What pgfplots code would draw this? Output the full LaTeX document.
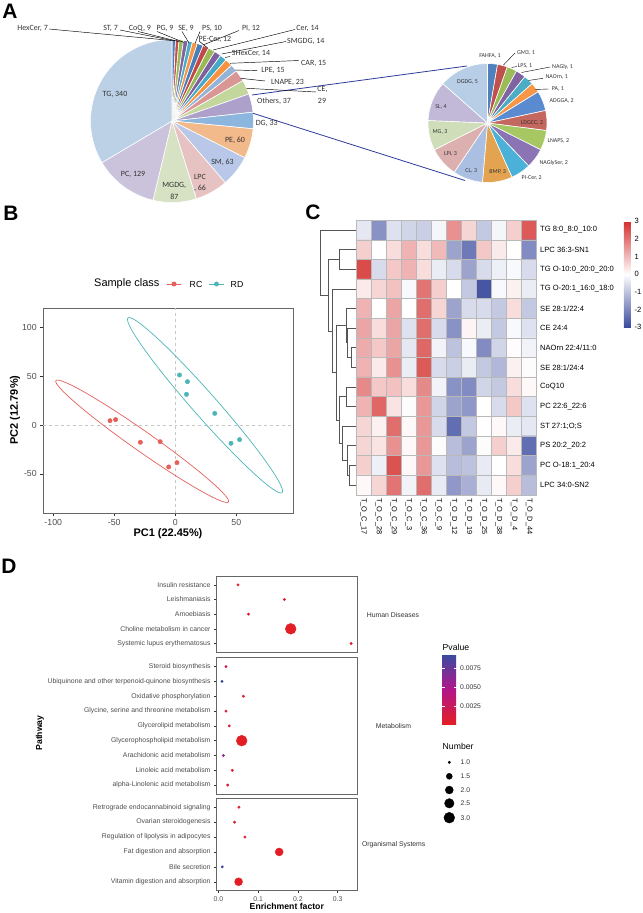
\documentclass[border=0pt]{standalone}
\usepackage{fontspec}
\setmainfont{Liberation Sans}
\newfontfamily\calibri{Carlito}
\usepackage{pgfplots}
\usepackage{pgfplotstable}
\pgfplotsset{compat=1.18, scale only axis, /pgf/number format/assume math mode=true,
  colormap={hm}{rgb255=(58,74,158) rgb255=(255,255,255) rgb255=(211,48,46)},
  colormap={pv}{rgb255=(226,30,36) rgb255=(178,22,138) rgb255=(58,74,160)}}

\newcommand\fs[1]{\fontsize{#1}{#1}\selectfont}

\definecolor{gray20}{HTML}{333333}
\definecolor{gray30}{HTML}{4D4D4D}
\definecolor{frame}{HTML}{666666}
\definecolor{rc}{HTML}{E5605B}
\definecolor{rd}{HTML}{4DB5B8}
\definecolor{link}{HTML}{2E3A9C}
\definecolor{dend}{HTML}{555555}
\definecolor{lab}{HTML}{333333}

% big pie, clockwise from 12 o'clock
\definecolor{pa0}{HTML}{4F81BD}\definecolor{pa1}{HTML}{C0504D}\definecolor{pa2}{HTML}{9BBB59}
\definecolor{pa3}{HTML}{8064A2}\definecolor{pa4}{HTML}{4BACC6}\definecolor{pa5}{HTML}{F79646}
\definecolor{pa6}{HTML}{4A7EBB}\definecolor{pa7}{HTML}{BE4B48}\definecolor{pa8}{HTML}{98B954}
\definecolor{pa9}{HTML}{7D60A0}\definecolor{pa10}{HTML}{46AAC5}\definecolor{pa11}{HTML}{F69240}
\definecolor{pa12}{HTML}{95B3D7}\definecolor{pa13}{HTML}{D99694}\definecolor{pa14}{HTML}{C3D69B}
\definecolor{pa15}{HTML}{ADA1CC}\definecolor{pa16}{HTML}{8DB6DE}\definecolor{pa17}{HTML}{F2B98A}
\definecolor{pa18}{HTML}{B9C8E8}\definecolor{pa19}{HTML}{E6C3C2}\definecolor{pa20}{HTML}{D7E2C4}
\definecolor{pa21}{HTML}{CBC3DC}\definecolor{pa22}{HTML}{BCD1E5}
% small pie
\definecolor{pb0}{HTML}{4F81BD}\definecolor{pb1}{HTML}{C0504D}\definecolor{pb2}{HTML}{9BBB59}
\definecolor{pb3}{HTML}{8064A2}\definecolor{pb4}{HTML}{4BACC6}\definecolor{pb5}{HTML}{F79646}
\definecolor{pb6}{HTML}{5A8AD0}\definecolor{pb7}{HTML}{C4675F}\definecolor{pb8}{HTML}{A6C761}
\definecolor{pb9}{HTML}{8B74B4}\definecolor{pb10}{HTML}{4CB1D8}\definecolor{pb11}{HTML}{E4A350}
\definecolor{pb12}{HTML}{AABFE2}\definecolor{pb13}{HTML}{DCB0AF}\definecolor{pb14}{HTML}{CFDDB9}
\definecolor{pb15}{HTML}{C1B9D7}\definecolor{pb16}{HTML}{B8CEE6}

% lipid classes: HexCer ST CoQ PG SE PS PI PE-Cer Cer SMGDG SHexCer CAR LPE LNAPE CE Others DG PE SM LPC MGDG PC TG
\pgfplotstableread{
value
7
7
9
9
9
10
12
12
14
14
14
15
15
23
29
37
33
60
63
66
87
129
340
}\pieA
% others: FAHFA GM3 LPS NAGly NAOrn PA ADGGA LDGCC LNAPS NAGlySer PI-Cer BMP CL LPI MG SL DGDG
\pgfplotstableread{
value
1
1
1
1
1
1
2
2
2
2
2
3
3
3
3
4
5
}\pieB

% #1 table, #2 colour prefix, #3 total, #4 radius
\newcommand\drawpie[4]{%
  \gdef\pieang{90}%
  \pgfplotstableforeachcolumnelement{value}\of#1\as\pv{%
    \pgfmathsetmacro\pa{\pieang}%
    \pgfmathsetmacro\pb{\pieang-\pv*(360/#3)}%
    \fill[fill=#2\pgfplotstablerow, draw=white, line width=0.6bp, line join=round]
      (axis cs:0,0) -- ++(\pa:#4) arc[start angle=\pa, end angle=\pb, radius=#4] -- cycle;
    \global\let\pieang\pb
  }}

% dendrogram link: y1 x1 xjoin y2 x2
\newcommand\dendjoin[5]{\addplot[dend, line width=0.6bp] coordinates {(#2,#1) (#3,#1) (#3,#4) (#5,#4)};}

\pgfplotsset{
  pieaxis/.style={anchor=center, xmin=-1, xmax=1, ymin=-1, ymax=1, hide axis},
  dfacet/.style={anchor=south west, width=141.7bp, xmin=-0.00578, xmax=0.3503, y dir=reverse,
    axis line style={draw=frame, line width=0.7bp}, tick align=outside, tick pos=left,
    major tick length=2bp, tick style={gray20, line width=0.5bp},
    scaled x ticks=false, ticklabel style={font=\fs{6.9}, text=gray30},
    colormap name=pv, point meta min=0.0001, point meta max=0.00925},
  dscatter/.style={scatter, only marks, mark=*, point meta=explicit,
    scatter/use mapped color={draw=mapped color, fill=mapped color},
    visualization depends on={sqrt(1+17.5*(\thisrow{n}-1))*0.8333+0.4 \as \msz},
    scatter/@pre marker code/.append style={/tikz/mark size=\msz bp}}
}

\begin{document}
\begin{tikzpicture}
\useasboundingbox (0,0) rectangle (643bp,913bp);

% ---------- A: pies
\begin{axis}[pieaxis, at={(172bp,792bp)}, width=163bp, height=163bp]
\pgfplotsextra{\drawpie{\pieA}{pa}{1014}{81.5bp}}
\end{axis}
\begin{axis}[pieaxis, at={(487.5bp,790bp)}, width=119bp, height=119bp]
\pgfplotsextra{\drawpie{\pieB}{pb}{37}{59.5bp}}
\end{axis}

% ---------- B: PCA
\begin{axis}[at={(43bp,400bp)}, anchor=south west, width=250bp, height=205bp,
  xmin=-108.4, xmax=96.5, ymin=-90.2, ymax=119.9,
  xtick={-100,-50,0,50}, ytick={-50,0,50,100},
  axis line style={draw=frame, line width=0.7bp}, tick align=outside, tick pos=left,
  major tick length=2.75bp, tick style={gray20, line width=0.5bp},
  ticklabel style={font=\fs{8.8}, text=gray30}]
\addplot[gray!45, dashed, line width=0.7bp] coordinates {(0,-90.2) (0,119.9)};
\addplot[gray!45, dashed, line width=0.7bp] coordinates {(-108.4,0) (96.5,0)};
\draw[rc, line width=0.7bp] (axis cs:-27.1,-16.7) ellipse [x radius=105.5bp, y radius=10bp, rotate=-35.1];
\draw[rd, line width=0.7bp] (axis cs:24.4,20.2) ellipse [x radius=116.5bp, y radius=12bp, rotate=-48.6];
\addplot[only marks, mark=*, mark size=2.2bp, rc] coordinates {
(-53.5,4.4) (-48.9,5.5) (-28.6,-17.7) (-12.4,-17.1) (-5.4,-43) (1.4,-38.6)};
\addplot[only marks, mark=*, mark size=2.2bp, rd] coordinates {
(3.5,51.2) (10,44.4) (9.2,31.4) (32.4,11.9) (45.7,-18.8) (52.7,-15)};
\end{axis}

% ---------- C: heatmap
\begin{axis}[at={(356bp,418.2bp)}, anchor=south west, width=180.7bp, height=274.6bp,
  xmin=-0.5, xmax=11.5, ymin=-0.5, ymax=13.5, y dir=reverse,
  axis on top, axis line style={draw=gray!55, line width=0.5bp},
  xtick={0,...,11}, ytick={0,...,13}, major tick length=0pt, minor tick length=0pt,
  minor xtick={0.5,1.5,...,10.5}, minor ytick={0.5,1.5,...,12.5},
  xminorgrids, yminorgrids, minor grid style={gray!55, line width=0.5bp},
  xticklabels={T\_O\_C\_17,T\_O\_C\_28,T\_O\_C\_29,T\_O\_C\_3,T\_O\_C\_36,T\_O\_C\_9,
    T\_O\_D\_12,T\_O\_D\_19,T\_O\_D\_25,T\_O\_D\_38,T\_O\_D\_4,T\_O\_D\_44},
  yticklabels={TG 8:0\_8:0\_10:0, LPC 36:3-SN1, TG O-10:0\_20:0\_20:0, TG O-20:1\_16:0\_18:0,
    SE 28:1/22:4, CE 24:4, NAOrn 22:4/11:0, SE 28:1/24:4, CoQ10, PC 22:6\_22:6,
    ST 27:1;O;S, PS 20:2\_20:2, PC O-18:1\_20:4, LPC 34:0-SN2},
  xticklabel style={rotate=-90, anchor=west, font=\fs{7.4}},
  yticklabel pos=right, yticklabel style={anchor=west, font=\fs{7.6}},
  colormap name=hm, point meta min=-3, point meta max=3,
  colorbar, colorbar style={at={(1.483,0.996)}, anchor=north west, width=7bp, height=106bp,
    y dir=normal, ytick={-3,...,3}, axis line style={draw=none}, major tick length=0pt,
    yticklabel style={font=\fs{7.6}}}]
\addplot[matrix plot*, mesh/cols=12, point meta=explicit] table[row sep=\\, meta=c] {
x y c\\
0 0 -0.4\\ 1 0 -1.8\\ 2 0 -0.5\\ 3 0 -0.7\\ 4 0 -0.8\\ 5 0 -0.15\\ 6 0 1.6\\ 7 0 0.6\\ 8 0 -0.9\\ 9 0 -0.15\\ 10 0 0.7\\ 11 0 2.4\\
0 1 0.7\\ 1 1 0\\ 2 1 0.5\\ 3 1 1.1\\ 4 1 0.5\\ 5 1 1.0\\ 6 1 -1.5\\ 7 1 -2.2\\ 8 1 0.8\\ 9 1 0.3\\ 10 1 0\\ 11 1 -1.9\\
0 2 2.6\\ 1 2 -0.6\\ 2 2 0.8\\ 3 2 1.1\\ 4 2 0.5\\ 5 2 -0.3\\ 6 2 -0.6\\ 7 2 -1.5\\ 8 2 -0.6\\ 9 2 -0.25\\ 10 2 -0.1\\ 11 2 -0.6\\
0 3 0.3\\ 1 3 0.6\\ 2 3 0.9\\ 3 3 -0.1\\ 4 3 2.0\\ 5 3 0.7\\ 6 3 0\\ 7 3 -0.9\\ 8 3 -2.8\\ 9 3 -0.1\\ 10 3 0.2\\ 11 3 -0.3\\
0 4 1.1\\ 1 4 0\\ 2 4 1.3\\ 3 4 0\\ 4 4 2.1\\ 5 4 0.6\\ 6 4 -1.5\\ 7 4 -0.6\\ 8 4 -0.6\\ 9 4 -0.9\\ 10 4 0.5\\ 11 4 -0.9\\
0 5 1.3\\ 1 5 0.5\\ 2 5 1.3\\ 3 5 -0.5\\ 4 5 2.1\\ 5 5 -0.6\\ 6 5 -1.8\\ 7 5 0.15\\ 8 5 -0.3\\ 9 5 -0.9\\ 10 5 -0.1\\ 11 5 -0.5\\
0 6 1.2\\ 1 6 0.8\\ 2 6 1.3\\ 3 6 -0.4\\ 4 6 2.2\\ 5 6 -0.2\\ 6 6 -1.0\\ 7 6 -0.1\\ 8 6 -1.9\\ 9 6 -0.7\\ 10 6 0.05\\ 11 6 -0.2\\
0 7 1.1\\ 1 7 0.3\\ 2 7 1.6\\ 3 7 -0.3\\ 4 7 2.4\\ 5 7 -0.6\\ 6 7 -0.8\\ 7 7 -0.3\\ 8 7 -0.9\\ 9 7 -1.2\\ 10 7 0.2\\ 11 7 -0.05\\
0 8 1.7\\ 1 8 0.8\\ 2 8 0.9\\ 3 8 0.5\\ 4 8 1.7\\ 5 8 -0.2\\ 6 8 -1.8\\ 7 8 -1.9\\ 8 8 -0.7\\ 9 8 -0.9\\ 10 8 0.5\\ 11 8 0.1\\
0 9 1.1\\ 1 9 2.2\\ 2 9 0.4\\ 3 9 -0.05\\ 4 9 1.5\\ 5 9 -0.7\\ 6 9 -1.5\\ 7 9 -1.7\\ 8 9 0\\ 9 9 -0.6\\ 10 9 0.8\\ 11 9 -0.5\\
0 10 0.6\\ 1 10 0.2\\ 2 10 2.1\\ 3 10 0.1\\ 4 10 1.5\\ 5 10 -0.6\\ 6 10 -2.4\\ 7 10 -0.9\\ 8 10 0\\ 9 10 0.1\\ 10 10 -0.3\\ 11 10 -0.4\\
0 11 0.6\\ 1 11 0.4\\ 2 11 1.6\\ 3 11 0.1\\ 4 11 1.5\\ 5 11 -0.05\\ 6 11 -1.1\\ 7 11 -1.5\\ 8 11 -0.05\\ 9 11 0.7\\ 10 11 0.3\\ 11 11 -2.4\\
0 12 0.7\\ 1 12 -0.25\\ 2 12 2.5\\ 3 12 0.1\\ 4 12 1.5\\ 5 12 -0.5\\ 6 12 -1.1\\ 7 12 -1.0\\ 8 12 -0.35\\ 9 12 0\\ 10 12 0.5\\ 11 12 -1.5\\
0 13 0.1\\ 1 13 0.6\\ 2 13 2.0\\ 3 13 -0.2\\ 4 13 2.1\\ 5 13 -0.35\\ 6 13 -1.7\\ 7 13 -1.3\\ 8 13 -0.35\\ 9 13 0.1\\ 10 13 0.7\\ 11 13 -1.1\\
};
\end{axis}

% ---------- D: KEGG enrichment
\begin{axis}[dfacet, at={(216bp,260.7bp)}, height=76.3bp, ymin=0.4, ymax=5.6, xtick=\empty,
  ytick={1,...,5}, yticklabels={Insulin resistance, Leishmaniasis, Amoebiasis,
    Choline metabolism in cancer, Systemic lupus erythematosus}]
\addplot[dscatter] table[x=ef, y=row, meta=p] {
ef row n p
0.0495 1 1 0.0003
0.166 2 1 0.0003
0.076 3 1 0.0003
0.182 4 3 0.0001
0.334 5 1 0.0003
};
\end{axis}
\begin{axis}[dfacet, at={(216bp,119bp)}, height=136.3bp, ymin=0.4, ymax=9.6, xtick=\empty,
  ytick={1,...,9}, yticklabels={Steroid biosynthesis, Ubiquinone and other terpenoid-quinone biosynthesis,
    Oxidative phosphorylation, {Glycine, serine and threonine metabolism}, Glycerolipid metabolism,
    Glycerophospholipid metabolism, Arachidonic acid metabolism, Linoleic acid metabolism,
    alpha-Linolenic acid metabolism},
  colorbar, colorbar style={at={(1.595,1.022)}, anchor=north west, width=14.7bp, height=69.3bp,
    y dir=normal, ytick={0.0025,0.005,0.0075}, yticklabels={0.0025,0.0050,0.0075}, scaled y ticks=false,
    axis line style={draw=none}, major tick length=3bp, tick align=inside,
    tick style={draw=white, line width=0.6bp}, yticklabel style={font=\fs{6.8}, text=gray20}}]
\addplot[dscatter] table[x=ef, y=row, meta=p] {
ef row n p
0.0193 1 1 0.0015
0.0093 2 1 0.0092
0.063 3 1 0.0006
0.0193 4 1 0.0015
0.0277 5 1 0.0010
0.0588 6 3 0.0001
0.0126 7 1 0.0060
0.0352 8 1 0.0008
0.0235 9 1 0.0012
};
\end{axis}
\begin{axis}[dfacet, at={(216bp,22.3bp)}, height=92.4bp, ymin=0.4, ymax=6.6,
  xtick={0,0.1,0.2,0.3}, xticklabels={0.0,0.1,0.2,0.3},
  ytick={1,...,6}, yticklabels={Retrograde endocannabinoid signaling, Ovarian steroidogenesis,
    Regulation of lipolysis in adipocytes, Fat digestion and absorption, Bile secretion,
    Vitamin digestion and absorption}]
\addplot[dscatter] table[x=ef, y=row, meta=p] {
ef row n p
0.052 1 1 0.0005
0.041 2 1 0.0006
0.067 3 1 0.0005
0.153 4 2 0.0001
0.010 5 1 0.0092
0.051 6 2 0.0001
};
\end{axis}

% ---------- annotation canvas (pixel coordinates, y down)
\begin{axis}[at={(0,0)}, anchor=south west, width=643bp, height=913bp,
  xmin=0, xmax=643, ymin=0, ymax=913, y dir=reverse, hide axis, clip=false]
% panel letters
\node[font=\fs{21}\bfseries] at (axis cs:10,11) {A};
\node[font=\fs{21}\bfseries] at (axis cs:11,213) {B};
\node[font=\fs{21}\bfseries] at (axis cs:313,212) {C};
\node[font=\fs{21}\bfseries] at (axis cs:9,566) {D};

% pie connectors
\addplot[link, line width=0.8bp] coordinates {(252,95) (467,66)};
\addplot[link, line width=0.8bp] coordinates {(253,113.3) (465,180.5)};

% big pie leader lines
\addplot[black, line width=0.45bp] coordinates {(49,29) (171.7,40.5)};
\addplot[black, line width=0.45bp] coordinates {(120,30) (175,41)};
\addplot[black, line width=0.45bp] coordinates {(138,31.5) (179.5,41.7)};
\addplot[black, line width=0.45bp] coordinates {(157,31.5) (184,42.5)};
\addplot[black, line width=0.45bp] coordinates {(182,31.5) (189,43)};
\addplot[black, line width=0.45bp] coordinates {(200,31.5) (195,43.5)};
\addplot[black, line width=0.45bp] coordinates {(239,30.5) (203,45)};
\addplot[black, line width=0.45bp] coordinates {(199,41) (208,48.3)};
\addplot[black, line width=0.45bp] coordinates {(295,29.5) (213,50)};
\addplot[black, line width=0.45bp] coordinates {(286,41.5) (221.7,54)};
\addplot[black, line width=0.45bp] coordinates {(230,56.5) (225,57.5)};
\addplot[black, line width=0.45bp] coordinates {(299,60.5) (230,63.3)};
\addplot[black, line width=0.45bp] coordinates {(257,70.7) (235,70)};
\addplot[black, line width=0.45bp] coordinates {(265,81) (240.7,78.3)};
\addplot[black, line width=0.45bp] coordinates {(316,92) (246.7,88.3)};
% small pie leader lines
\addplot[black, line width=0.4bp] coordinates {(515,53) (503.5,65)};
\addplot[black, line width=0.4bp] coordinates {(517,66.5) (511.5,67.5)};
\addplot[black, line width=0.4bp] coordinates {(550,67) (521.5,72.5)};
\addplot[black, line width=0.4bp] coordinates {(543,78.3) (528.3,80.5)};
\addplot[black, line width=0.4bp] coordinates {(548.5,89) (535,89.5)};

% big pie labels
\begin{scope}[every node/.style={font=\calibri\fs{8}, text=lab, inner sep=0pt}]
\node[anchor=east] at (axis cs:48,28) {HexCer, 7};
\node[anchor=east] at (axis cs:118,28) {ST, 7};
\node at (axis cs:140,28) {CoQ, 9};
\node at (axis cs:165,28) {PG, 9};
\node at (axis cs:186,28) {SE, 9};
\node at (axis cs:212,28) {PS, 10};
\node at (axis cs:251,28) {PI, 12};
\node at (axis cs:307.5,28) {Cer, 14};
\node at (axis cs:215,39) {PE-Cer, 12};
\node[anchor=west] at (axis cs:287,41) {SMGDG, 14};
\node at (axis cs:251,53.3) {SHexCer, 14};
\node[anchor=west] at (axis cs:301,63.3) {CAR, 15};
\node at (axis cs:273,70.7) {LPE, 15};
\node at (axis cs:287.5,82.3) {LNAPE, 23};
\node at (axis cs:322.5,89.3) {CE,};
\node at (axis cs:322,100.7) {29};
\node at (axis cs:274,101.7) {Others, 37};
\node at (axis cs:266.7,123.3) {DG, 33};
\node at (axis cs:235,140) {PE, 60};
\node at (axis cs:222.5,162) {SM, 63};
\node at (axis cs:200,177.3) {LPC};
\node at (axis cs:200,188.3) {, 66};
\node at (axis cs:174.3,185) {MGDG,};
\node at (axis cs:174.3,196.7) {87};
\node at (axis cs:133,174) {PC, 129};
\node at (axis cs:115,94.3) {TG, 340};
\end{scope}
% small pie labels
\begin{scope}[every node/.style={font=\calibri\fs{6}, text=lab, inner sep=0pt}]
\node at (axis cs:490,56) {FAHFA, 1};
\node at (axis cs:526,53.3) {GM3, 1};
\node at (axis cs:525,66) {LPS, 1};
\node at (axis cs:562.5,66.7) {NAGly, 1};
\node at (axis cs:556.7,77.3) {NAOrn, 1};
\node at (axis cs:558,89) {PA, 1};
\node at (axis cs:561.7,100.7) {ADGGA, 2};
\node at (axis cs:532,123.3) {LDGCC, 2};
\node at (axis cs:558.3,141) {LNAPS, 2};
\node at (axis cs:553.7,163.3) {NAGlySer, 2};
\node at (axis cs:531.7,177.7) {PI-Cer, 2};
\node at (axis cs:497.7,172.3) {BMP, 3};
\node at (axis cs:471.3,170.7) {CL, 3};
\node at (axis cs:450.5,154.3) {LPI, 3};
\node at (axis cs:440,131.7) {MG, 3};
\node at (axis cs:441,106.7) {SL, 4};
\node at (axis cs:467.5,81.7) {DGDG, 5};
\end{scope}

% B legend and axis titles
\node[anchor=west, font=\fs{11}, inner sep=0pt] at (axis cs:94,284) {Sample class};
\addplot[rc, line width=0.7bp] coordinates {(167,284) (181,284)};
\addplot[rc, only marks, mark=*, mark size=2.2bp] coordinates {(174,284)};
\node[anchor=west, font=\fs{8.8}, inner sep=0pt] at (axis cs:189.5,284) {RC};
\addplot[rd, line width=0.7bp] coordinates {(209,284) (224,284)};
\addplot[rd, only marks, mark=*, mark size=2.2bp] coordinates {(216.5,284)};
\node[anchor=west, font=\fs{8.8}, inner sep=0pt] at (axis cs:230.5,284) {RD};
\node[font=\fs{11}\bfseries] at (axis cs:168,533.5) {PC1 (22.45\%)};
\node[font=\fs{11}\bfseries, rotate=90] at (axis cs:15,410) {PC2 (12.79\%)};

% C dendrogram (row centres 230 + 19.6 k)
\dendjoin{465.2}{356}{349.3}{484.8}{356}
\dendjoin{445.6}{356}{347.7}{475}{349.3}
\dendjoin{426}{356}{342.7}{460.3}{347.7}
\dendjoin{386.8}{356}{346}{406.4}{356}
\dendjoin{396.6}{346}{339.3}{443.2}{342.7}
\dendjoin{347.6}{356}{351}{367.2}{356}
\dendjoin{328}{356}{347.7}{357.4}{351}
\dendjoin{308.4}{356}{346}{342.7}{347.7}
\dendjoin{325.5}{346}{336.7}{419.9}{339.3}
\dendjoin{288.8}{356}{332}{372.7}{336.7}
\dendjoin{249.6}{356}{339.3}{269.2}{356}
\dendjoin{259.4}{339.3}{328}{330.8}{332}
\dendjoin{230}{356}{320}{295.1}{328}

% D titles and legends
\node[font=\fs{6.9}, text=gray20] at (axis cs:393,615) {Human Diseases};
\node[font=\fs{6.9}, text=gray20] at (axis cs:393.5,726) {Metabolism};
\node[font=\fs{6.9}, text=gray20] at (axis cs:393.7,845) {Organismal Systems};
\node[font=\fs{8.7}\bfseries, rotate=90] at (axis cs:40,733) {Pathway};
\node[font=\fs{8.7}\bfseries] at (axis cs:286.8,906.5) {Enrichment factor};
\node[anchor=west, font=\fs{8.7}, inner sep=0pt] at (axis cs:442.5,647.7) {Pvalue};
\node[anchor=west, font=\fs{8.7}, inner sep=0pt] at (axis cs:442.5,746.7) {Number};
\addplot[black, only marks, mark=*, mark size=1.23bp] coordinates {(449.3,762.3)};
\addplot[black, only marks, mark=*, mark size=3.0bp] coordinates {(449.3,776.3)};
\addplot[black, only marks, mark=*, mark size=3.98bp] coordinates {(449.3,790)};
\addplot[black, only marks, mark=*, mark size=4.75bp] coordinates {(449.3,803.3)};
\addplot[black, only marks, mark=*, mark size=5.4bp] coordinates {(449.3,817.7)};
\begin{scope}[every node/.style={anchor=west, font=\fs{6.8}, text=gray20, inner sep=0pt}]
\node at (axis cs:460.5,762.3) {1.0};
\node at (axis cs:460.5,776.3) {1.5};
\node at (axis cs:460.5,790) {2.0};
\node at (axis cs:460.5,803.3) {2.5};
\node at (axis cs:460.5,817.7) {3.0};
\end{scope}
\end{axis}
\end{tikzpicture}
\end{document}
